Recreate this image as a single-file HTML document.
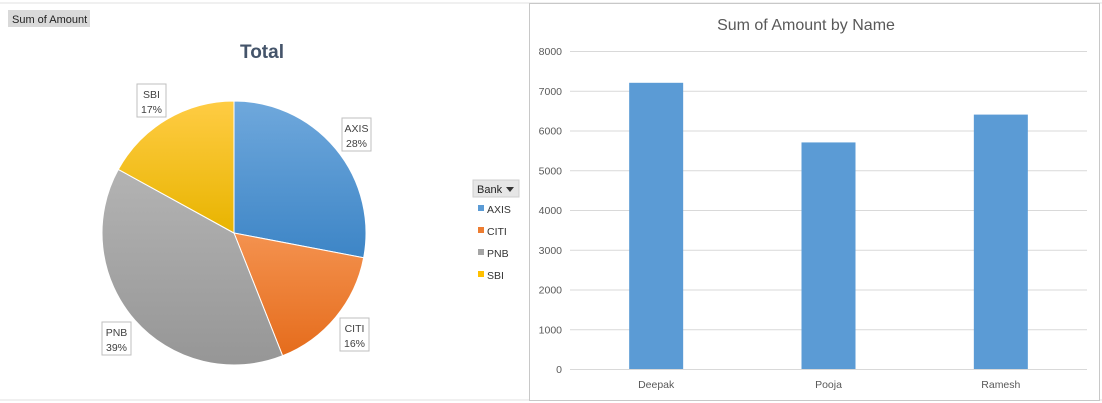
<!DOCTYPE html>
<html><head><meta charset="utf-8"><style>
body{margin:0;width:1102px;height:403px;overflow:hidden;background:#fff;font-family:"Liberation Sans",sans-serif}
svg{display:block}
</style></head><body>
<svg width="1102" height="403">
<defs>
<linearGradient id="gA" x1="0" y1="0" x2="0" y2="1"><stop offset="0" stop-color="#6fa8dc"/><stop offset="1" stop-color="#3d85c6"/></linearGradient>
<linearGradient id="gC" x1="0" y1="0" x2="0" y2="1"><stop offset="0" stop-color="#f4924f"/><stop offset="1" stop-color="#e56c1c"/></linearGradient>
<linearGradient id="gP" x1="0" y1="0" x2="0" y2="1"><stop offset="0" stop-color="#b3b3b3"/><stop offset="1" stop-color="#969696"/></linearGradient>
<linearGradient id="gS" x1="0" y1="0" x2="0" y2="1"><stop offset="0" stop-color="#ffcc44"/><stop offset="1" stop-color="#e8b400"/></linearGradient>
</defs>
<g stroke="#e2e2e2">
<line x1="0" y1="3" x2="1102" y2="3"/><line x1="0" y1="400" x2="1102" y2="400"/>
</g>
<rect x="529.5" y="3.5" width="570" height="397" fill="#fff" stroke="#c8c8c8"/>
<rect x="8" y="10" width="82" height="17" fill="#d9d9d9"/>
<text x="12" y="23" font-size="11" fill="#222">Sum of Amount</text>
<text x="262" y="58" font-size="19" font-weight="bold" fill="#44546a" text-anchor="middle">Total</text>
<g id="pie"></g>
<g id="pielabels"></g>
<rect x="473" y="180" width="46" height="17" fill="#e6e6e6" stroke="#cfcfcf"/>
<text x="477" y="193" font-size="11" fill="#222">Bank</text>
<path d="M506 187 L514 187 L510 192 Z" fill="#333"/>
<g id="legend"></g>
<text x="806" y="30" font-size="16" fill="#595959" text-anchor="middle">Sum of Amount by Name</text>
<g id="bars"></g>
</svg>
<script>
const pieCategories=["AXIS","CITI","PNB","SBI"];
const pieValues=[28,16,39,17];
const pieFills=["url(#gA)","url(#gC)","url(#gP)","url(#gS)"];
const legendColors=["#5b9bd5","#ed7d31","#a5a5a5","#ffc000"];
const barCategories=["Deepak","Pooja","Ramesh"];
const barValues=[7200,5700,6400];
const yTicks=[0,1000,2000,3000,4000,5000,6000,7000,8000];
const NS="http://www.w3.org/2000/svg";
function mk(t,a,p){const e=document.createElementNS(NS,t);for(const k in a)e.setAttribute(k,a[k]);p.appendChild(e);return e;}
// pie
const cx=234,cy=233,r=132;
const pie=document.getElementById('pie'),pl=document.getElementById('pielabels');
const tot=pieValues.reduce((a,b)=>a+b,0);
let acc=0;
const labelBoxes=[[342,118],[340,318],[102,322],[137,84]];
pieValues.forEach((v,i)=>{
 const a0=acc/tot*2*Math.PI;acc+=v;const a1=acc/tot*2*Math.PI;
 const x0=cx+r*Math.sin(a0),y0=cy-r*Math.cos(a0),x1=cx+r*Math.sin(a1),y1=cy-r*Math.cos(a1);
 const large=(a1-a0)>Math.PI?1:0;
 const p=mk('path',{d:`M${cx} ${cy} L${x0} ${y0} A${r} ${r} 0 ${large} 1 ${x1} ${y1} Z`,fill:pieFills[i],stroke:'#fff','stroke-width':1},pie);
 
 
 const [bx,by]=labelBoxes[i];
 const g=mk('g',{},pl);
 
 
 mk('rect',{x:bx,y:by,width:29,height:33,fill:'#fff',stroke:'#bfbfbf'},g);
 const t1=mk('text',{x:bx+14.5,y:by+14,'font-size':10.5,fill:'#404040','text-anchor':'middle'},g);t1.textContent=pieCategories[i];
 const t2=mk('text',{x:bx+14.5,y:by+29,'font-size':10.5,fill:'#404040','text-anchor':'middle'},g);t2.textContent=Math.round(v/tot*100)+'%';
});
// legend
const lg=document.getElementById('legend');
pieCategories.forEach((c,i)=>{
 const y=209+i*22;
 const s=mk('rect',{x:478,y:y-4,width:6,height:6,fill:legendColors[i]},lg);
 
 
 const t=mk('text',{x:487,y:y+4,'font-size':10.5,fill:'#333'},lg);t.textContent=c;
 
 
});
// bars
const bg=document.getElementById('bars');
const x0=570,x1=1087,yTop=51,yBot=369,ymax=8000;
const ys=v=>yBot-(v/ymax)*(yBot-yTop);
const band=(x1-x0)/barCategories.length,bw=54;
yTicks.forEach(v=>{
 const l=mk('line',{x1:x0,x2:x1,y1:ys(v)+.5,y2:ys(v)+.5,stroke:'#d9d9d9'},bg);
 
 
 const t=mk('text',{x:562,y:ys(v)+4,'font-size':10.5,fill:'#595959','text-anchor':'end'},bg);t.textContent=v;
 
 
});
barCategories.forEach((c,i)=>{
 const cxb=x0+band*(i+0.5);
 const b=mk('rect',{x:cxb-bw/2,y:ys(barValues[i]),width:bw,height:yBot-ys(barValues[i]),fill:'#5b9bd5'},bg);
 
 
 const t=mk('text',{x:cxb,y:388,'font-size':10.5,fill:'#595959','text-anchor':'middle'},bg);t.textContent=c;
 
 
});
</script>
</body></html>
